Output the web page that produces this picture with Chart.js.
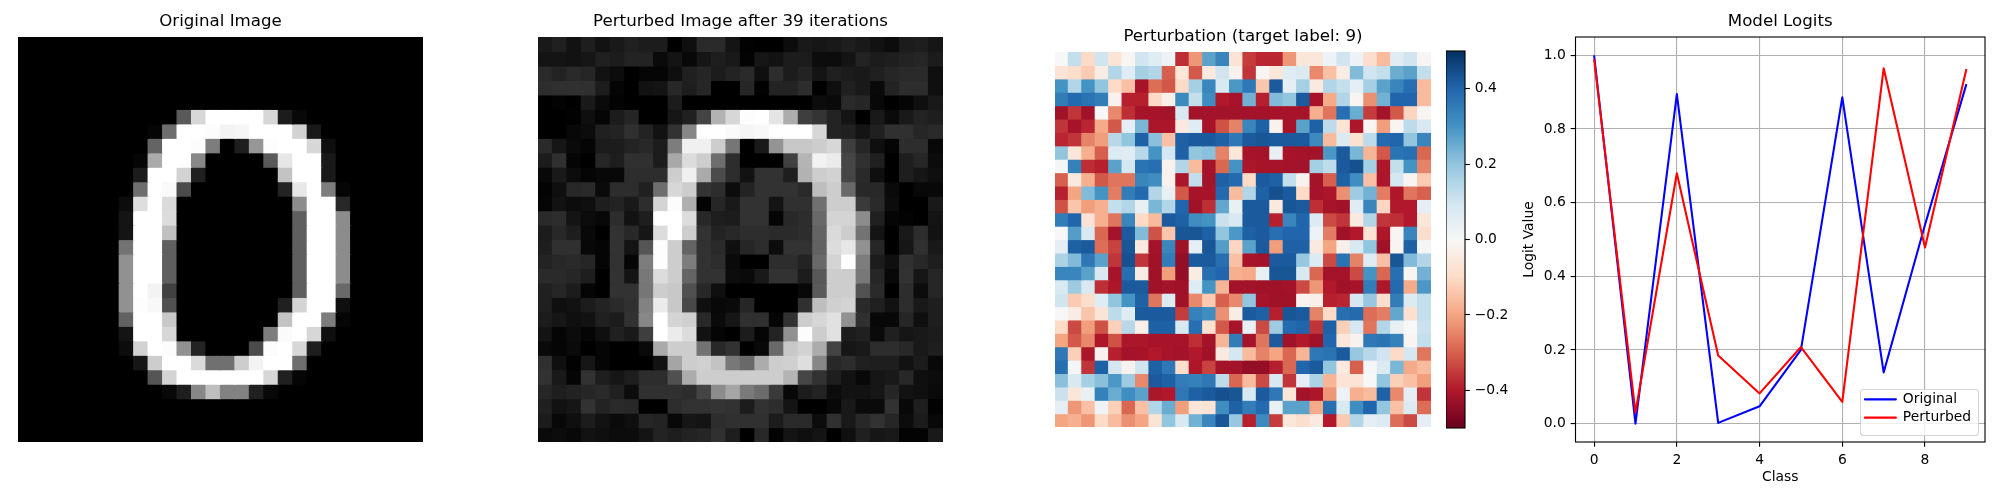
<!DOCTYPE html>
<html>
<head>
<meta charset="utf-8">
<title>Adversarial perturbation</title>
<script src="https://cdn.jsdelivr.net/npm/chart.js@4"></script>
<style>
    html, body { margin: 0; padding: 0; background: #fff; }
    #page { position: relative; width: 2000px; height: 500px; overflow: hidden; }
    canvas { position: absolute; top: 0; display: block; }
</style>
</head>
<body>
<div id="page">
    <canvas id="originalChart" width="441" height="500" style="left:0"></canvas>
    <canvas id="perturbedChart" width="441" height="500" style="left:520px"></canvas>
    <canvas id="noiseChart" width="412" height="500" style="left:1037px"></canvas>
    <canvas id="colorbarChart" width="80" height="500" style="left:1446px"></canvas>
    <canvas id="logitsChart" width="500" height="500" style="left:1500px"></canvas>
</div>
<script>
// grey levels 0-255, top row first
const originalPixels = [
    [0,0,0,0,0,0,0,0,0,0,0,0,0,0,0,0,0,0,0,0,0,0,0,0,0,0,0,0],
    [0,0,0,0,0,0,0,0,0,0,0,0,0,0,0,0,0,0,0,0,0,0,0,0,0,0,0,0],
    [0,0,0,0,0,0,0,0,0,0,0,0,0,0,0,0,0,0,0,0,0,0,0,0,0,0,0,0],
    [0,0,0,0,0,0,0,0,0,0,0,0,0,0,0,0,0,0,0,0,0,0,0,0,0,0,0,0],
    [0,0,0,0,0,0,0,0,0,0,0,0,0,0,0,0,0,0,0,0,0,0,0,0,0,0,0,0],
    [0,0,0,0,0,0,0,0,0,0,0,90,215,255,255,255,255,215,28,8,0,0,0,0,0,0,0,0],
    [0,0,0,0,0,0,0,0,0,5,110,255,255,252,243,246,255,255,255,210,25,0,0,0,0,0,0,0],
    [0,0,0,0,0,0,0,0,0,100,255,255,252,125,0,30,150,253,255,255,215,15,0,0,0,0,0,0],
    [0,0,0,0,0,0,0,0,5,170,255,255,135,0,0,0,0,90,230,255,255,25,0,0,0,0,0,0],
    [0,0,0,0,0,0,0,0,28,255,255,210,32,0,0,0,0,0,195,255,255,25,0,0,0,0,0,0],
    [0,0,0,0,0,0,0,0,110,255,250,75,0,0,0,0,0,0,35,232,255,125,5,0,0,0,0,0],
    [0,0,0,0,0,0,0,12,222,255,218,0,0,0,0,0,0,0,0,140,255,255,40,0,0,0,0,0],
    [0,0,0,0,0,0,0,20,255,255,220,0,0,0,0,0,0,0,0,95,255,255,140,0,0,0,0,0],
    [0,0,0,0,0,0,0,20,255,255,192,0,0,0,0,0,0,0,0,95,255,255,140,0,0,0,0,0],
    [0,0,0,0,0,0,0,115,255,255,95,0,0,0,0,0,0,0,0,95,255,255,140,0,0,0,0,0],
    [0,0,0,0,0,0,0,145,255,255,95,0,0,0,0,0,0,0,0,95,255,255,140,0,0,0,0,0],
    [0,0,0,0,0,0,0,145,255,255,95,0,0,0,0,0,0,0,0,95,255,255,140,0,0,0,0,0],
    [0,0,0,0,0,0,0,145,255,243,65,0,0,0,0,0,0,0,0,95,255,255,105,0,0,0,0,0],
    [0,0,0,0,0,0,0,145,253,248,80,0,0,0,0,0,0,0,32,212,255,255,15,0,0,0,0,0],
    [0,0,0,0,0,0,0,98,255,255,200,0,0,0,0,0,0,0,195,255,255,125,5,0,0,0,0,0],
    [0,0,0,0,0,0,0,20,255,255,215,0,0,0,0,0,0,125,250,255,215,15,0,0,0,0,0,0],
    [0,0,0,0,0,0,0,12,210,255,252,145,35,0,0,0,75,252,255,215,30,0,0,0,0,0,0,0],
    [0,0,0,0,0,0,0,0,22,205,255,255,218,112,112,205,243,255,255,110,0,0,0,0,0,0,0,0],
    [0,0,0,0,0,0,0,0,0,85,212,255,255,255,255,255,255,215,32,5,0,0,0,0,0,0,0,0],
    [0,0,0,0,0,0,0,0,0,0,8,30,135,190,130,130,32,8,0,0,0,0,0,0,0,0,0,0],
    [0,0,0,0,0,0,0,0,0,0,0,0,0,0,0,0,0,0,0,0,0,0,0,0,0,0,0,0],
    [0,0,0,0,0,0,0,0,0,0,0,0,0,0,0,0,0,0,0,0,0,0,0,0,0,0,0,0],
    [0,0,0,0,0,0,0,0,0,0,0,0,0,0,0,0,0,0,0,0,0,0,0,0,0,0,0,0]
];

const perturbedPixels = [
    [25,32,18,30,18,25,32,28,28,0,15,42,42,20,2,0,0,12,25,22,25,30,25,18,12,28,30,22],
    [20,20,18,22,32,28,35,35,10,20,8,22,30,25,3,22,18,28,28,12,12,20,35,28,30,35,38,28],
    [42,35,42,38,18,12,0,5,5,15,32,38,28,35,42,15,45,28,35,20,32,28,25,32,38,42,42,15],
    [45,48,48,48,28,5,0,18,20,40,30,38,0,0,38,2,35,35,45,0,15,32,25,10,35,45,45,15],
    [0,3,0,25,10,3,0,0,0,28,0,0,0,0,0,0,0,0,0,12,10,42,38,8,0,5,15,25],
    [0,0,2,15,5,28,38,0,0,22,32,68,178,215,253,255,228,172,62,52,35,20,0,25,10,25,35,30],
    [0,0,8,12,32,35,48,35,18,50,135,255,255,250,245,248,255,255,255,215,35,32,20,32,48,48,38,42],
    [42,22,10,5,28,28,35,40,28,125,240,240,205,118,0,25,148,200,200,205,215,62,38,15,5,45,45,8],
    [28,48,5,0,38,30,48,48,28,168,220,205,110,45,0,0,0,65,180,242,235,70,48,32,0,30,38,12],
    [8,25,12,5,8,8,45,45,45,205,240,170,75,45,18,50,50,30,178,205,210,70,42,15,0,30,22,15],
    [3,15,40,42,10,45,45,32,110,215,205,52,45,12,35,50,50,50,42,190,205,105,40,40,10,0,8,8],
    [5,18,12,15,30,35,25,45,212,252,175,3,38,25,50,50,20,48,48,112,205,205,58,42,12,0,0,25],
    [42,45,20,12,8,45,18,30,255,255,220,40,30,28,50,50,5,40,45,105,212,212,140,32,5,3,0,20],
    [28,40,30,8,0,50,40,22,220,255,205,50,35,40,45,45,42,42,45,100,218,205,115,20,0,25,45,18],
    [30,48,48,8,5,50,20,85,252,205,100,50,42,15,38,45,12,50,50,98,220,230,145,38,0,22,48,25],
    [35,40,42,38,5,50,5,125,253,205,125,50,45,10,0,0,45,45,35,105,212,255,125,28,15,48,40,30],
    [42,42,38,30,0,50,20,120,220,205,100,50,50,12,10,25,50,50,28,88,205,205,120,38,8,50,22,38],
    [32,38,28,5,0,50,50,118,205,200,80,40,15,0,0,0,0,0,8,90,205,205,82,42,0,45,12,38],
    [32,15,18,28,35,42,48,130,235,200,72,15,8,10,38,0,0,0,48,190,208,212,42,32,18,45,25,30],
    [28,22,15,18,32,28,50,135,255,212,208,40,10,22,48,48,5,50,205,215,225,145,48,8,8,38,15,30],
    [20,5,12,5,15,32,25,62,255,235,220,18,5,0,28,5,35,145,252,205,225,28,32,10,32,22,25,28],
    [10,5,10,0,5,0,0,10,170,205,205,115,40,50,0,8,105,200,210,172,68,22,25,45,45,40,25,30],
    [48,15,2,22,5,0,0,0,18,165,205,208,195,120,105,172,205,208,222,135,40,45,32,30,30,18,28,8],
    [50,25,5,50,30,22,30,45,45,80,172,205,205,205,205,205,205,180,70,50,30,18,8,22,25,40,15,12],
    [38,30,35,38,42,32,12,48,48,48,45,68,140,165,122,108,58,8,28,35,12,18,18,22,38,18,15,10],
    [32,18,22,50,35,42,40,0,0,45,50,50,52,50,28,50,45,20,0,0,8,25,10,10,50,8,30,2],
    [28,8,15,28,18,10,15,38,35,8,22,20,45,48,48,48,28,42,42,12,48,25,40,50,38,12,28,8],
    [10,12,8,18,15,12,12,20,35,30,35,38,48,30,0,40,3,20,15,20,0,15,32,22,25,3,3,25]
];

// perturbation values, estimated from the colour of each cell
const perturbationValues = [
    [0,.12,-.1,.1,-.07,-.01,.1,.06,.03,-.37,-.22,.27,.33,-.07,-.35,-.38,-.38,-.22,-.06,-.06,.03,.1,.03,-.09,-.16,.06,.1,-.01],
    [-.07,-.09,-.13,-.04,.15,.06,.17,.15,-.3,-.06,-.31,-.05,.1,-.02,-.36,-.01,-.06,.06,.07,-.24,-.15,-.04,.22,.1,.12,.25,.27,.12],
    [.3,.15,.3,.2,-.1,-.15,-.415,-.28,-.31,-.1,.17,.33,.08,.29,.36,-.14,.42,.05,.17,-.05,.15,.12,.05,.17,.27,.33,.38,-.16],
    [.35,.39,.37,.35,-.02,-.39,-.39,-.1,-.03,.32,.12,.31,-.4,-.415,.24,-.39,.22,.2,.42,-.415,-.19,.15,-.01,-.23,.24,.4,.4,-.16],
    [-.425,-.36,-.425,0,-.24,-.37,-.415,-.415,-.42,.08,-.42,-.42,-.42,-.42,-.42,-.42,-.415,-.415,-.415,-.18,-.27,.38,.25,-.35,-.42,-.31,-.11,-.01],
    [-.36,-.415,-.38,-.19,-.31,.05,.23,-.41,-.41,-.05,.06,-.415,-.32,-.25,.33,.41,-.02,-.415,.27,.41,.13,-.07,-.41,-.01,-.21,-.01,.13,.08],
    [-.38,-.36,-.25,-.21,.14,.2,.41,.21,-.15,.41,.42,.42,.41,.36,.42,.43,.42,.42,.42,.32,-.16,.07,-.08,.13,.39,.4,.2,.33],
    [.2,-.06,-.18,-.3,.07,.06,.14,.3,.09,.41,.2,.21,-.25,-.06,-.415,-.42,.04,-.415,-.42,-.42,.29,.42,.23,-.17,-.31,.37,.38,-.29],
    [.01,.34,-.37,-.39,.27,.09,.37,.38,-.02,.15,-.16,-.42,-.29,.3,-.41,-.415,-.415,-.42,-.42,.17,.13,.42,.44,.17,-.405,.12,.3,-.25],
    [-.3,-.05,-.18,-.31,-.27,-.27,.33,.31,-.02,-.41,.12,-.42,.41,.39,-.1,.42,.41,.12,-.02,-.42,-.3,.41,.31,-.15,-.41,.09,-.01,-.13],
    [-.39,-.2,.22,.3,-.26,.35,.39,.15,.04,-.31,-.415,-.415,.39,-.16,.15,.41,.44,.42,-.1,-.42,-.41,-.23,.18,.24,-.26,-.405,-.27,-.3],
    [-.32,-.14,-.21,-.18,.12,.15,.04,.23,.15,.4,-.425,-.37,.26,.04,.42,.42,-.05,.43,.42,-.37,-.415,-.425,.06,.33,-.11,-.4,-.4,.05],
    [.35,.4,-.07,-.18,-.27,.33,-.1,-.16,.42,.41,.31,.3,.11,.08,.42,.42,-.39,.33,.4,.07,-.33,-.36,-.05,.15,-.36,-.37,-.4,-.06],
    [0,.28,.08,-.29,-.42,.42,.22,-.32,-.14,.43,.43,.41,.2,.29,.41,.42,.38,.4,.4,.03,-.26,-.425,-.4,-.07,-.405,-.01,.33,-.09],
    [.05,.41,.42,-.28,-.34,.43,-.05,-.42,.33,-.425,.05,.43,.28,-.11,.27,.42,-.21,.41,.41,-.05,-.2,-.03,.08,.2,-.425,-.01,.41,.01],
    [.16,.22,.36,.27,-.36,.44,-.36,-.425,.35,-.44,.42,.42,.38,-.15,-.415,-.42,.42,.42,.19,.07,-.33,.37,-.25,.06,-.15,.43,.22,.15],
    [.33,.33,.27,.08,-.415,.38,-.04,-.425,-.21,-.44,-.04,.38,.4,-.18,-.19,.04,.43,.43,.08,-.29,-.42,-.42,-.33,.3,-.29,.38,-.01,.24],
    [.08,.18,.08,-.37,-.405,.42,.42,-.425,-.42,-.425,.06,.3,-.17,-.42,-.42,-.425,-.425,-.42,-.33,-.22,-.4,-.425,-.415,.35,-.405,.39,-.19,.29],
    [.1,-.13,-.09,.06,.2,.3,.41,-.27,.07,-.425,-.24,-.13,-.3,-.24,.2,-.415,-.425,-.425,-.02,-.03,-.39,-.38,.09,.19,-.09,.35,.07,.12],
    [0,-.04,-.14,-.07,.13,.06,.42,.42,.42,-.35,.34,.31,-.23,-.04,.42,.41,-.39,.43,.42,-.25,-.1,.38,.39,-.28,-.26,.26,-.08,.12],
    [-.1,-.33,-.21,-.32,-.12,.14,-.03,.41,.41,.08,.38,-.08,-.31,-.415,.04,-.33,.18,.39,.4,-.36,.41,-.12,.09,-.27,.15,.04,0,.11],
    [-.2,-.31,-.24,-.405,-.32,-.41,-.41,-.415,-.415,-.415,-.37,-.42,-.17,.35,-.42,-.27,.42,-.425,-.4,-.425,.4,-.06,-.02,.36,.37,.34,-.01,.12],
    [.36,-.12,-.41,-.02,-.39,-.42,-.415,-.4,-.415,-.42,-.4,-.425,-.05,.09,-.16,-.25,-.2,-.29,-.17,.36,.37,.42,.19,.14,.1,-.1,.09,-.27],
    [.38,.01,-.36,.41,.09,-.02,.1,.41,.36,-.09,-.405,-.34,-.42,-.42,-.44,-.44,-.39,-.29,.4,.42,.2,-.05,-.3,.01,.07,.23,-.19,-.16],
    [.21,.08,.17,.21,.29,.18,-.24,.42,.41,.35,.34,.36,.13,-.29,-.16,-.33,.08,-.36,.05,.16,-.17,-.07,-.07,0,.2,-.12,-.15,-.21],
    [.11,-.06,.04,.34,.25,.31,.27,-.41,-.4,.36,.41,.42,.44,.43,.08,.42,.36,-.06,-.42,-.41,-.22,.03,-.18,-.16,.41,-.24,.05,-.36],
    [.05,-.22,-.15,.02,-.12,-.29,-.15,.15,.25,-.21,-.06,-.07,.31,.41,.35,.39,.04,.27,.27,-.19,.38,.08,.31,.4,.2,-.15,.07,-.28],
    [-.2,-.18,-.22,-.1,-.16,-.23,-.2,-.07,.2,.08,.24,.33,.43,.19,-.39,.32,-.35,-.06,-.09,-.05,-.4,-.13,.15,.05,.07,-.28,-.33,.05]
];

const classes = [0, 1, 2, 3, 4, 5, 6, 7, 8, 9];
const originalLogits = [1.0, 0.0, 0.895, 0.002, 0.047, 0.2, 0.886, 0.139, 0.54, 0.922];
const perturbedLogits = [0.99, 0.03, 0.68, 0.185, 0.082, 0.208, 0.059, 0.965, 0.478, 0.963];

const colorbarRange = [-0.5, 0.5];
const colorbarTicks = [-0.4, -0.2, 0, 0.2, 0.4];
const rdbuStops = ["#67001f", "#b2182b", "#d6604d", "#f4a582", "#fddbc7", "#f7f7f7", "#d1e5f0", "#92c5de", "#4393c3", "#2166ac", "#053061"];

// matplotlib sizes at dpi 100
const TICK_FONT = 13.89;
const TITLE_FONT = 16.67;
const SPINE = 1.11;
const TICK_LEN = 4.86;

Chart.defaults.font.family = "'DejaVu Sans'";
Chart.defaults.font.size = TICK_FONT;
Chart.defaults.color = "#000";
Chart.defaults.animation = false;
Chart.defaults.responsive = false;
Chart.defaults.devicePixelRatio = 1;

function grey(v) {
    return "rgb(" + v + "," + v + "," + v + ")";
}

function hexToRgb(hex) {
    return [1, 3, 5].map(i => parseInt(hex.slice(i, i + 2), 16));
}

function rdbu(value) {
    const t = Math.min(Math.max((value + 0.5) * 10, 0), 10);
    const i = Math.min(Math.floor(t), 9);
    const a = hexToRgb(rdbuStops[i]);
    const b = hexToRgb(rdbuStops[i + 1]);
    const mix = a.map((c, k) => Math.round(c + (b[k] - c) * (t - i)));
    return "rgb(" + mix.join(",") + ")";
}

function minusLabel(v) {
    return (v < 0 ? "\u2212" : "") + Math.abs(v).toFixed(1);
}

function titleOptions(text, paddingTop) {
    return {
        display: true,
        text: text,
        fullSize: false,
        color: "#000",
        font: { size: TITLE_FONT, weight: "normal" },
        padding: { top: paddingTop, bottom: 5 }
    };
}

// black box round the chart area
const framePlugin = {
    id: "frame",
    afterDraw(chart) {
        const a = chart.chartArea;
        chart.ctx.save();
        chart.ctx.strokeStyle = "#000";
        chart.ctx.lineWidth = SPINE;
        chart.ctx.strokeRect(a.left, a.top, a.width, a.height);
        chart.ctx.restore();
    }
};

// puts the legend inside the axes, at the lower right, on top of the lines
const legendBoxPlugin = {
    id: "legendBox",
    beforeLayout(chart) {
        const legend = chart.legend;
        legend._layers = () => [{
            z: 1,
            draw() {
                const ctx = chart.ctx;
                ctx.save();
                ctx.beginPath();
                ctx.roundRect(360.5, 389.5, 118, 46, 3);
                ctx.fillStyle = "rgba(255,255,255,0.8)";
                ctx.fill();
                ctx.strokeStyle = "rgba(204,204,204,0.8)";
                ctx.lineWidth = SPINE;
                ctx.stroke();
                ctx.restore();
                legend.draw();
            }
        }];
    },
    afterLayout(chart) {
        const legend = chart.legend;
        legend.left = 360.5;
        legend.right = 478.5;
        legend.top = 388;
        legend.bottom = 480;
    }
};

function plotHeatmap(canvasId, title, rows, cellColor, paddingX, paddingBottom, titleTop) {
    const labels = rows[0].map((_, c) => c);
    const datasets = rows.map((row, r) => ({
        data: row.map(() => [rows.length - r - 1, rows.length - r]),
        backgroundColor: row.map(cellColor),
        borderWidth: 0,
        inflateAmount: 0.6,
        grouped: false,
        barPercentage: 1,
        categoryPercentage: 1
    }));

    new Chart(document.getElementById(canvasId), {
        type: "bar",
        data: { labels: labels, datasets: datasets },
        options: {
            layout: { padding: { left: paddingX, right: paddingX, bottom: paddingBottom } },
            plugins: {
                title: titleOptions(title, titleTop),
                legend: { display: false },
                tooltip: { enabled: false }
            },
            scales: {
                x: { display: false },
                y: { display: false, min: 0, max: rows.length }
            }
        }
    });
}

plotHeatmap("originalChart", "Original Image", originalPixels, grey, 18, 58, 12);
plotHeatmap("perturbedChart", "Perturbed Image after 39 iterations", perturbedPixels, grey, 18, 58, 12);
plotHeatmap("noiseChart", "Perturbation (target label: 9)", perturbationValues, rdbu, 18, 73, 27);

// COLORBAR
new Chart(document.getElementById("colorbarChart"), {
    type: "bar",
    data: {
        labels: [""],
        datasets: [{
            data: [colorbarRange],
            borderWidth: 0,
            barPercentage: 1,
            categoryPercentage: 1,
            backgroundColor(context) {
                const area = context.chart.chartArea;
                if (!area) return "#fff";
                const gradient = context.chart.ctx.createLinearGradient(0, area.bottom, 0, area.top);
                rdbuStops.forEach((c, i) => gradient.addColorStop(i / (rdbuStops.length - 1), c));
                return gradient;
            }
        }]
    },
    options: {
        layout: { padding: { top: 51, bottom: 72 } },
        plugins: { legend: { display: false }, tooltip: { enabled: false } },
        scales: {
            x: { display: false },
            y: {
                position: "right",
                min: colorbarRange[0],
                max: colorbarRange[1],
                afterFit(scale) { scale.width = 61; },
                afterBuildTicks(scale) { scale.ticks = colorbarTicks.map(v => ({ value: v })); },
                border: { display: false },
                grid: { drawOnChartArea: false, tickLength: TICK_LEN, tickColor: "#000", tickWidth: SPINE },
                ticks: { padding: TICK_LEN, callback: minusLabel, color: "#000" }
            }
        }
    },
    plugins: [framePlugin]
});

// LOGITS
new Chart(document.getElementById("logitsChart"), {
    type: "line",
    data: {
        datasets: [
            {
                label: "Original",
                data: classes.map((c, i) => ({ x: c, y: originalLogits[i] })),
                borderColor: "#0000ff",
                backgroundColor: "#0000ff",
                borderWidth: 2.08,
                borderJoinStyle: "round",
                pointRadius: 0,
                tension: 0,
                order: 2
            },
            {
                label: "Perturbed",
                data: classes.map((c, i) => ({ x: c, y: perturbedLogits[i] })),
                borderColor: "#ff0000",
                backgroundColor: "#ff0000",
                borderWidth: 2.08,
                borderJoinStyle: "round",
                pointRadius: 0,
                tension: 0,
                order: 1
            }
        ]
    },
    options: {
        layout: { padding: { right: 15 } },
        plugins: {
            title: titleOptions("Model Logits", 12),
            tooltip: { enabled: false },
            legend: {
                position: "chartArea",
                align: "start",
                labels: {
                    boxWidth: 31,
                    boxHeight: 0,
                    padding: 4.4,
                    color: "#000",
                    font: { size: TICK_FONT },
                    sort: (a, b) => a.datasetIndex - b.datasetIndex
                }
            }
        },
        scales: {
            x: {
                type: "linear",
                min: -0.45,
                max: 9.45,
                afterFit(scale) { scale.height = 58; },
                border: { display: false },
                title: { display: true, text: "Class", color: "#000", font: { size: TICK_FONT }, padding: { top: 0, bottom: 14.67 } },
                grid: { color: "#b0b0b0", lineWidth: SPINE, tickLength: TICK_LEN, tickColor: "#000", tickWidth: SPINE },
                ticks: { stepSize: 2, includeBounds: false, maxRotation: 0, padding: TICK_LEN, color: "#000" }
            },
            y: {
                min: -0.05,
                max: 1.05,
                afterFit(scale) { scale.width = 75.5; },
                border: { display: false },
                title: { display: true, text: "Logit Value", color: "#000", font: { size: TICK_FONT }, padding: { top: 20.7, bottom: 0 } },
                grid: { color: "#b0b0b0", lineWidth: SPINE, tickLength: TICK_LEN, tickColor: "#000", tickWidth: SPINE },
                ticks: { stepSize: 0.2, includeBounds: false, padding: TICK_LEN, callback: v => v.toFixed(1), color: "#000" }
            }
        }
    },
    plugins: [framePlugin, legendBoxPlugin]
});
</script>
</body>
</html>
